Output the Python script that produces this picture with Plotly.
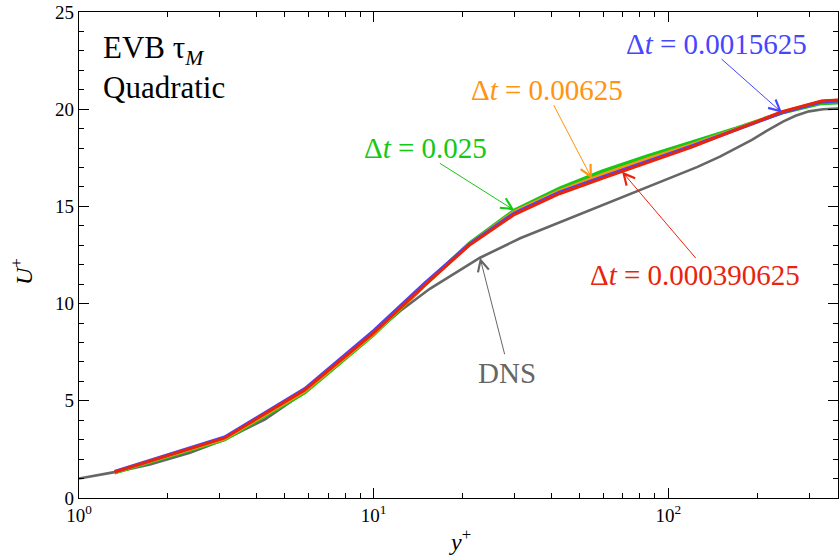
import math
import numpy as np
import plotly.graph_objects as go

# ---------------- data ----------------
les_yplus = [1.32, 3.12, 5.84, 10.0, 14.9, 21.1, 30.0, 42.7, 60.0, 85.0, 120.0, 170.0, 243.0, 331.0, 395.0]
u_dt_0p025 = [1.30, 3.00, 5.42, 8.40, 10.95, 13.10, 14.80, 15.92, 16.82, 17.60, 18.30, 19.02, 19.82, 20.30, 20.35]
u_dt_0p00625 = [1.33, 3.05, 5.50, 8.45, 10.95, 13.05, 14.72, 15.80, 16.65, 17.45, 18.18, 18.98, 19.85, 20.40, 20.47]
u_dt_0p0015625 = [1.36, 3.13, 5.62, 8.60, 11.05, 13.05, 14.65, 15.72, 16.52, 17.32, 18.10, 18.95, 19.82, 20.38, 20.45]
u_dt_0p000390625 = [1.34, 3.09, 5.56, 8.50, 10.95, 13.00, 14.58, 15.65, 16.45, 17.25, 18.05, 18.95, 19.87, 20.42, 20.50]

dns_yplus = [1.0, 1.32, 1.74, 2.38, 3.12, 4.28, 5.84, 7.69, 10.0, 12.3, 15.5, 19.6, 22.95, 31.4,
             46.4, 68.5, 101.3, 125.0, 149.6, 170.0, 192.0, 214.0, 244.8, 270.0, 300.0, 334.6, 379.2, 395.0]
dns_u = [1.00, 1.33, 1.72, 2.33, 3.00, 4.05, 5.45, 6.95, 8.45, 9.62, 10.76, 11.72, 12.36, 13.36,
         14.40, 15.42, 16.45, 17.02, 17.56, 17.98, 18.42, 18.86, 19.36, 19.66, 19.89, 20.00, 20.04, 20.05]

x_tick_vals = [1, 10, 100]
x_tick_text = ["10<sup>0</sup>", "10<sup>1</sup>", "10<sup>2</sup>"]

FONT = "Liberation Serif"
C_GREEN = "#14c814"
C_ORANGE = "#ff9410"
C_BLUE = "#4646ff"
C_RED = "#e8240c"
C_GRAY = "#666666"

fig = go.Figure()
fig.add_trace(go.Scatter(x=dns_yplus, y=dns_u, mode="lines", line=dict(color=C_GRAY, width=2.6), name="DNS"))
fig.add_trace(go.Scatter(x=les_yplus, y=u_dt_0p025, mode="lines", line=dict(color=C_GREEN, width=3.6), name="0.025"))
fig.add_trace(go.Scatter(x=les_yplus, y=u_dt_0p00625, mode="lines", line=dict(color=C_ORANGE, width=3.4), name="0.00625"))
fig.add_trace(go.Scatter(x=les_yplus, y=u_dt_0p0015625, mode="lines", line=dict(color=C_BLUE, width=3.4), name="0.0015625"))
fig.add_trace(go.Scatter(x=les_yplus, y=u_dt_0p000390625, mode="lines", line=dict(color=C_RED, width=3.0), name="0.000390625"))


def interp(xs, ys, xq):
    return float(np.interp(math.log10(xq), np.log10(xs), ys))


annotations = []
# arrows: (x of tip, series x, series y, color, ax, ay)
arrows = [
    (243.0, les_yplus, u_dt_0p0015625, C_BLUE, -62, -55),
    (55.0, les_yplus, u_dt_0p00625, C_ORANGE, -39, -75),
    (30.0, les_yplus, u_dt_0p025, C_GREEN, -76, -48),
    (69.6, les_yplus, u_dt_0p000390625, C_RED, 75, 88),
    (22.95, dns_yplus, dns_u, C_GRAY, 25, 98),
]
for xt, xs, ys, col, ax, ay in arrows:
    annotations.append(dict(
        x=math.log10(xt), y=interp(xs, ys, xt), xref="x", yref="y",
        text="", showarrow=True, arrowhead=5, arrowsize=2.2, arrowwidth=1,
        arrowcolor=col, ax=ax, ay=ay, axref="pixel", ayref="pixel",
    ))

L, T, W, H = 79, 12, 759, 486


def px2paper(px, py):
    return (px - L) / W, (T + H - py) / H


labels = [
    ("Δ<i>t</i> = 0.0015625", C_BLUE, 716, 44, "center"),
    ("Δ<i>t</i> = 0.00625", C_ORANGE, 547, 90, "center"),
    ("Δ<i>t</i> = 0.025", C_GREEN, 425, 148, "center"),
    ("Δ<i>t</i> = 0.000390625", C_RED, 695, 275, "center"),
    ("DNS", C_GRAY, 507, 373, "center"),
]
for txt, col, px, py, xa in labels:
    xp, yp = px2paper(px, py)
    annotations.append(dict(x=xp, y=yp, xref="paper", yref="paper", text=txt, showarrow=False,
                            xanchor=xa, yanchor="middle", font=dict(family=FONT, size=29, color=col)))

for txt, py in [("EVB τ<sub><i>M</i></sub>", 50), ("Quadratic", 88)]:
    xp, yp = px2paper(101, py)
    annotations.append(dict(x=xp, y=yp, xref="paper", yref="paper", text=txt, showarrow=False,
                            xanchor="left", yanchor="middle", font=dict(family=FONT, size=31, color="black")))

# axis titles
xp, yp = px2paper(460, 540)
annotations.append(dict(x=xp, y=yp, xref="paper", yref="paper", text="<i>y</i><sup>+</sup>", showarrow=False,
                        xanchor="center", yanchor="middle", font=dict(family=FONT, size=24, color="black")))
xp, yp = px2paper(22, 272)
annotations.append(dict(x=xp, y=yp, xref="paper", yref="paper", text="<i>U</i><sup>+</sup>", showarrow=False,
                        textangle=-90, xanchor="center", yanchor="middle",
                        font=dict(family=FONT, size=24, color="black")))

minor_x = [m * 10 ** d for d in range(3) for m in range(2, 10) if m * 10 ** d < 380]

fig.update_layout(
    width=839, height=558,
    margin=dict(l=L, r=839 - L - W, t=T, b=558 - T - H, pad=0),
    plot_bgcolor="white", paper_bgcolor="white",
    showlegend=False,
    annotations=annotations,
    font=dict(family=FONT, color="black"),
    xaxis=dict(
        type="log", range=[0, 2.5755], showgrid=False, zeroline=False,
        showline=True, linecolor="black", linewidth=1.3, mirror="ticks",
        ticks="inside", ticklen=10, tickwidth=1, tickcolor="black",
        tickmode="array", tickvals=x_tick_vals, ticktext=x_tick_text,
        tickfont=dict(family=FONT, size=19, color="black"),
        minor=dict(tickmode="array", tickvals=minor_x, ticks="inside", ticklen=5,
                   tickwidth=1, tickcolor="black", showgrid=False),
    ),
    yaxis=dict(
        range=[0, 25], showgrid=False, zeroline=False,
        showline=True, linecolor="black", linewidth=1.3, mirror="ticks",
        ticks="inside", ticklen=10, tickwidth=1, tickcolor="black",
        tick0=0, dtick=5,
        tickfont=dict(family=FONT, size=19, color="black"),
        minor=dict(dtick=1, ticks="inside", ticklen=5, tickwidth=1, tickcolor="black", showgrid=False),
    ),
)

fig.write_html("out.html")
